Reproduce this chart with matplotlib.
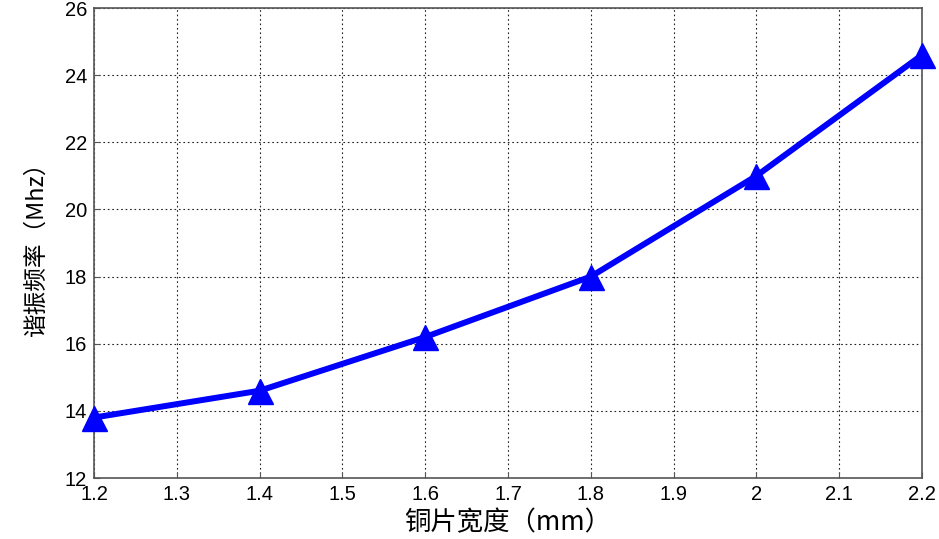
import matplotlib
matplotlib.use("Agg")
import matplotlib.pyplot as plt

x_width = [1.2, 1.4, 1.6, 1.8, 2.0, 2.2]
freq = [13.8, 14.6, 16.2, 18.0, 21.0, 24.6]
xticks = [1.2, 1.3, 1.4, 1.5, 1.6, 1.7, 1.8, 1.9, 2.0, 2.1, 2.2]
xticklabels = ["1.2", "1.3", "1.4", "1.5", "1.6", "1.7", "1.8", "1.9", "2", "2.1", "2.2"]
yticks = [12, 14, 16, 18, 20, 22, 24, 26]

plt.rcParams['font.family'] = ['Liberation Sans', 'Noto Sans CJK SC', 'DejaVu Sans']

fig = plt.figure(figsize=(9.39, 5.39), dpi=100)
ax = fig.add_axes([94/939, 1-478/539, (922-94)/939, (478-8)/539])
ax.plot(x_width, freq, color='#0000ff', lw=4.3, marker='^', ms=18, clip_on=False, zorder=5)
ax.set_xlim(1.2, 2.2)
ax.set_ylim(12, 26)
ax.set_xticks(xticks)
ax.set_xticklabels(xticklabels)
ax.set_yticks(yticks)
ax.grid(True, color='#222222', linestyle=(0, (1.5, 2.5)), linewidth=0.8)
ax.tick_params(direction='in', labelsize=14.5, length=4, color='#555555', pad=5)
for s in ax.spines.values():
    s.set_color('#555555')
    s.set_linewidth(1.2)

ax.set_xlabel('铜片宽度（mm）', fontsize=19, labelpad=4,
              family=['Noto Sans CJK SC', 'DejaVu Sans'])
ax.set_ylabel('谐振频率（Mhz）', fontsize=17, labelpad=12,
              family=['Noto Sans CJK SC', 'DejaVu Sans'])

fig.savefig('out.png', dpi=100)
